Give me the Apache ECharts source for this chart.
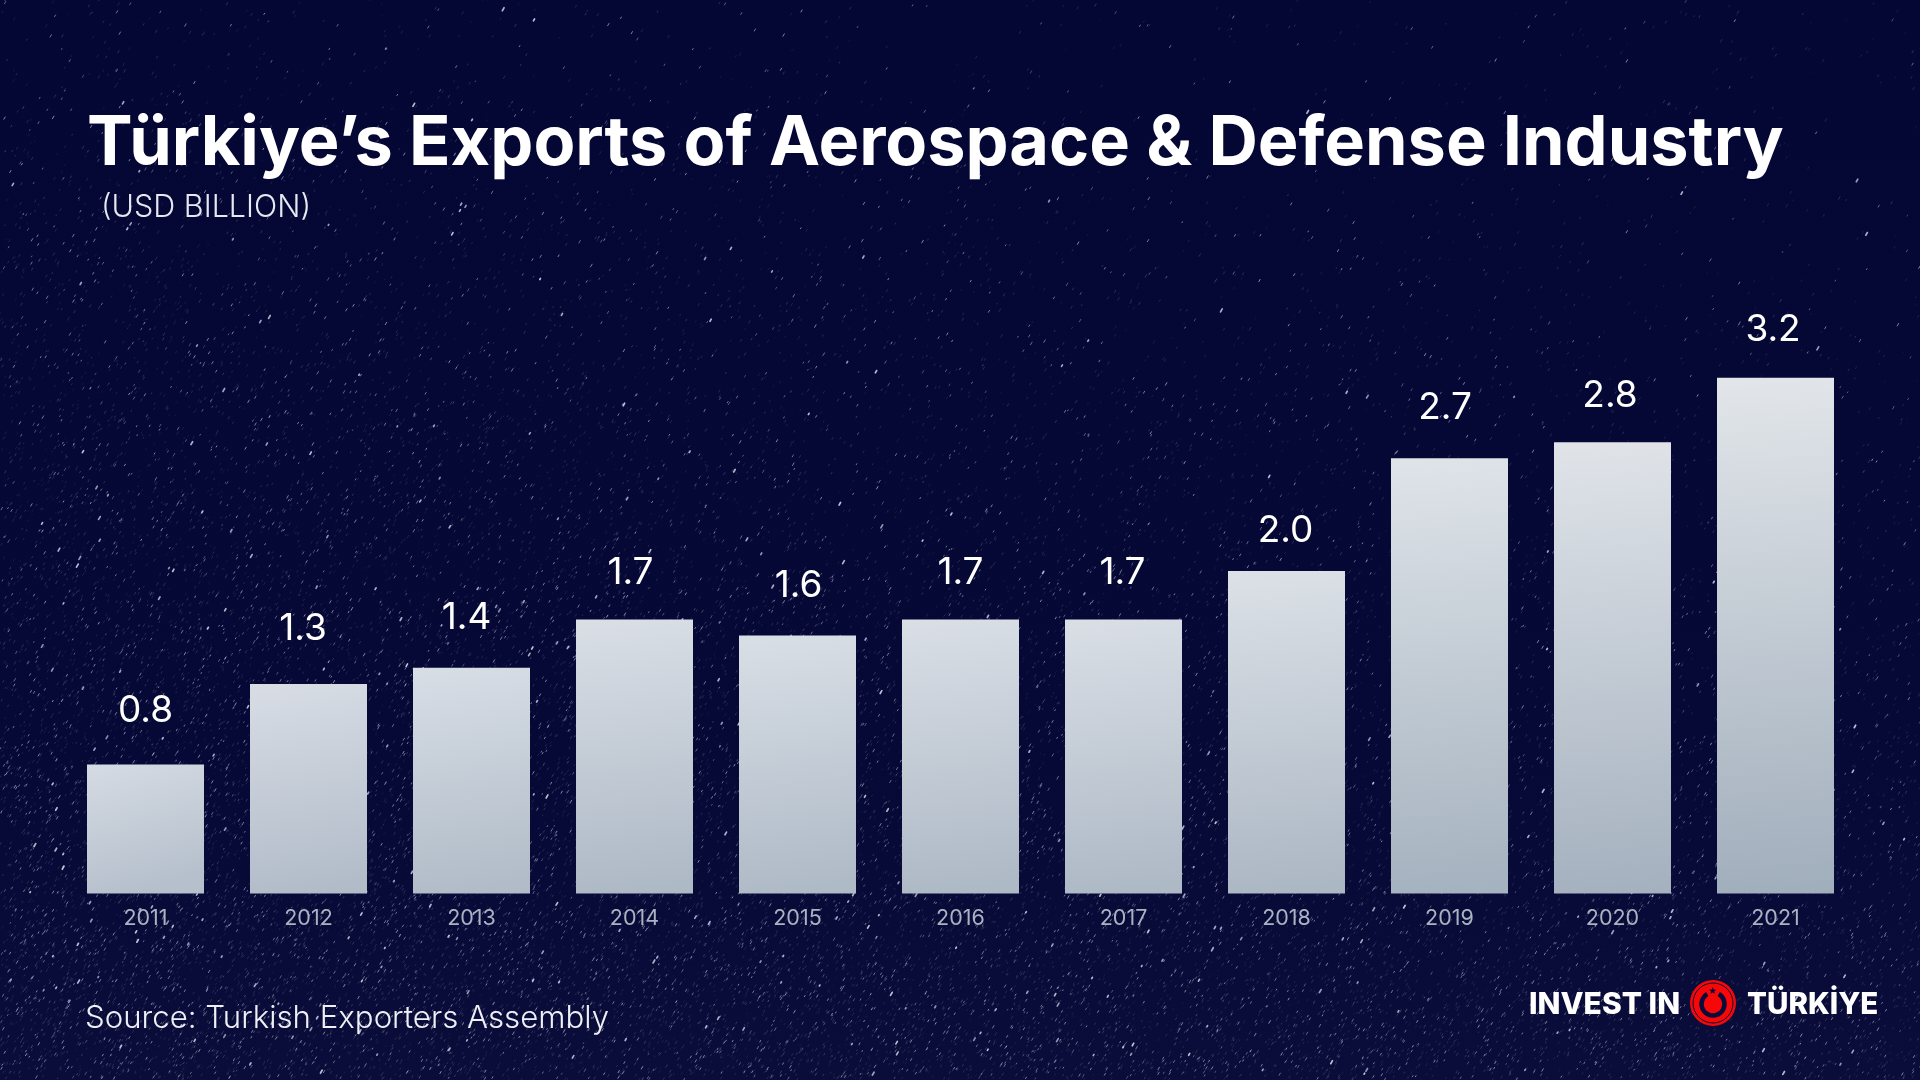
<!DOCTYPE html>
<html><head><meta charset="utf-8">
<style>html,body{margin:0;padding:0;background:#050735}#c{width:1920px;height:1080px}</style>
<script src="https://cdn.jsdelivr.net/npm/echarts@6/dist/echarts.min.js"></script>
</head><body><div id="c"></div>
<script>
const years = ['2011','2012','2013','2014','2015','2016','2017','2018','2019','2020','2021'];
const exportsUsdBn = [0.8,1.3,1.4,1.7,1.6,1.7,1.7,2.0,2.7,2.8,3.2];
const labelShiftX = [0,-5.5,-5,-4,1,0,-1,-1,-4.5,-2.5,-2.5];
const labelGap = [54,55,49.5,47,50,47,47,40.5,50,46.5,47.5];

const FONT = 'Inter, "Noto Sans", sans-serif';
const LV = 37;

function starfield(){
  const cv=document.createElement('canvas');cv.width=1920;cv.height=1080;
  const g=cv.getContext('2d');
  const bg=g.createLinearGradient(0,0,0,1080);
  bg.addColorStop(0,'#040633');bg.addColorStop(.7,'#060835');bg.addColorStop(1,'#0a0c39');
  g.fillStyle=bg;g.fillRect(0,0,1920,1080);
  let s=20240611;const r=()=>{s=(s*1664525+1013904223)>>>0;return s/4294967296;};
  const dens=(x,y)=>{
    const u=x/1920,v=y/1080;
    return Math.min(1,Math.max(0.05,0.05+0.95*Math.pow(Math.max(0,v*1.05+(1-u)*0.42-0.24),1.6)));
  };
  g.lineCap='round';
  for(let i=0;i<80000;i++){
    const x=r()*1920,y=r()*1080;
    if(r()>dens(x,y)*0.8)continue;
    const b=r();const a=b<.72?0.06+r()*0.14:(b<.985?0.28+r()*0.3:0.6+r()*0.25);
    const l=1+r()*(b>.985?2.6:2);
    g.strokeStyle='rgba(225,230,245,'+a.toFixed(3)+')';
    g.lineWidth=b>.985?1.7:1;
    g.beginPath();g.moveTo(x,y);g.lineTo(x+l*0.5,y-l*0.87);g.stroke();
  }
  return cv;
}
function lerp(a,b,t){return a.map((v,i)=>Math.round(v+(b[i]-v)*t));}
function rgb(c){return 'rgb('+c.join(',')+')';}
function barFill(v){
  const t=(v-0.8)/2.4;
  return {type:'linear',x:0,y:0,x2:0.3,y2:1,colorStops:[
    {offset:0,color:rgb(lerp([213,219,228],[226,230,234],t))},
    {offset:1,color:rgb(lerp([182,192,204],[161,174,188],t))}]};
}
const chart=echarts.init(document.getElementById('c'),null,{renderer:'canvas',width:1920,height:1080});
const W='#ffffff',NAVY='#0a0b3a',RED='#f60808';
chart.setOption({
  animation:false,
  backgroundColor:'#050735',
  title:[
    {text:'Türkiye’s Exports of Aerospace & Defense Industry',left:87,top:102,padding:0,
     textStyle:{color:W,fontFamily:FONT,fontWeight:700,fontSize:68.4,lineHeight:84}},
    {text:'(USD BILLION)',left:101,top:190,padding:0,
     textStyle:{color:'#e6e8f2',fontFamily:FONT,fontWeight:300,fontSize:30.5,lineHeight:36}},
    {text:'Source: Turkish Exporters Assembly',left:85,top:1000,padding:0,
     textStyle:{color:'#eef0f6',fontFamily:FONT,fontWeight:300,fontSize:31.2,lineHeight:38}}
  ],
  grid:{left:64,width:1793,top:329.3,bottom:186.5,containLabel:false},
  xAxis:{type:'category',data:years,axisLine:{show:false},axisTick:{show:false},
    axisLabel:{color:'#a9b3c1',fontFamily:FONT,fontSize:21.5,margin:14}},
  yAxis:{type:'value',min:0,max:3.5,show:false,splitLine:{show:false}},
  series:[{type:'bar',barWidth:117,
    data:exportsUsdBn.map((v,i)=>({value:v,
      itemStyle:{color:barFill(v)},
      label:{show:true,position:'top',distance:labelGap[i]-LV/2,offset:[labelShiftX[i],0],
        formatter:p=>p.value.toFixed(1),color:W,fontFamily:FONT,fontWeight:400,fontSize:LV}}))}],
  graphic:[
    {type:'image',z:-100,silent:true,style:{image:starfield(),x:0,y:0,width:1920,height:1080}},
    {type:'text',z:10,style:{text:'INVEST IN',x:1529,y:1005,verticalAlign:'middle',fill:W,font:'800 30px '+FONT}},
    {type:'text',z:10,style:{text:'TÜRKİYE',x:1747,y:1005,verticalAlign:'middle',fill:W,font:'800 29.5px '+FONT}},
    {type:'circle',z:10,shape:{cx:1713,cy:1003,r:23},style:{fill:RED}},
    {type:'circle',z:11,shape:{cx:1713,cy:1003,r:20},style:{fill:null,stroke:NAVY,lineWidth:1}},
    {type:'arc',z:11,shape:{cx:1713,cy:1004,r:11.5,startAngle:-Math.PI/3,endAngle:-2*Math.PI/3,clockwise:true},style:{fill:null,stroke:NAVY,lineWidth:4.5}},
    {type:'polygon',z:11,shape:{points:[0,1,2,3,4,5,6,7,8,9].map(k=>{const R=k%2?1.6:3.8,a=-Math.PI/2+k*Math.PI/5;return [1712.7+R*Math.cos(a),990.8+R*Math.sin(a)];})},style:{fill:NAVY}}
  ]
});
</script></body></html>
